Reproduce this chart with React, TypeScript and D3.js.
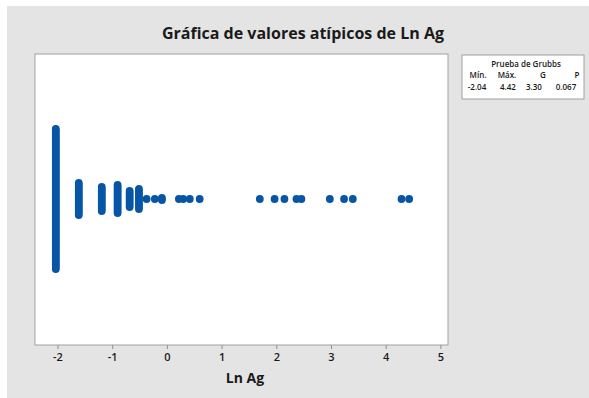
import React from "react";
import * as d3 from "d3";

const title = "Gráfica de valores atípicos de Ln Ag";
const axisTitle = "Ln Ag";
const xTicks = [-2, -1, 0, 1, 2, 3, 4, 5];
// distinct values of Ln Ag and how many observations share each value
const values = [-2.04, -1.62, -1.2, -0.91, -0.69, -0.52, -0.38, -0.23, -0.1, 0.21, 0.29, 0.41, 0.59, 1.69, 1.96, 2.14, 2.36, 2.45, 2.97, 3.23, 3.39, 4.28, 4.42];
const counts = [71, 17, 13, 15, 9, 11, 1, 1, 2, 1, 1, 1, 1, 1, 1, 1, 1, 1, 1, 1, 1, 1, 1];
const legendTitle = "Prueba de Grubbs";
const legendHeaders = ["Mín.", "Máx.", "G", "P"];
const legendValues = ["-2.04", "4.42", "3.30", "0.067"];

const W = 589;
const H = 398;
const plot = { left: 35, right: 448, top: 54, bottom: 345 };
const font = "'Open Sans', 'Noto Sans', sans-serif";
const dotColor = "#0756a6";

export default function App() {
  const x = d3.scaleLinear().domain([-2.42, 5.13]).range([plot.left, plot.right]);
  const yc = 199;
  const step = 2;
  const r = 3.9;

  const dots: { cx: number; cy: number; k: string }[] = [];
  values.forEach((v, i) => {
    const n = counts[i];
    for (let j = 0; j < n; j++) {
      const off = (j - (n - 1) / 2) * step;
      dots.push({ cx: x(v), cy: yc + off, k: `${i}-${j}` });
    }
  });

  const legX = [478, 507, 543, 577];
  const legValX = [477, 508, 534, 566];

  return (
    <svg width={W} height={H} style={{ position: "absolute", left: 0, top: 0 }}>
      <rect x={0} y={0} width={W} height={H} fill="#ffffff" />
      <rect x={7} y={6} width={W - 7} height={H - 6} fill="#e4e4e4" />
      <text x={303} y={39} textAnchor="middle" fontFamily={font} fontWeight="bold" fontSize={16} fill="#1a1a1a">
        {title}
      </text>
      <rect
        x={plot.left}
        y={plot.top}
        width={plot.right - plot.left}
        height={plot.bottom - plot.top}
        fill="#ffffff"
        stroke="#a0a0a0"
        strokeWidth={1}
      />
      {dots.map((d) => (
        <circle key={d.k} cx={d.cx} cy={d.cy} r={r} fill={dotColor} />
      ))}
      {xTicks.map((t) => (
        <g key={t}>
          <line x1={x(t)} x2={x(t)} y1={plot.bottom} y2={plot.bottom + 4} stroke="#909090" />
          <text x={x(t)} y={361} textAnchor="middle" fontFamily={font} fontWeight={600} fontSize={11} fill="#1a1a1a">
            {t}
          </text>
        </g>
      ))}
      <text x={245} y={383} textAnchor="middle" fontFamily={font} fontWeight="bold" fontSize={14} fill="#1a1a1a">
        {axisTitle}
      </text>
      <rect x={462} y={55} width={122} height={44} fill="#ffffff" stroke="#a0a0a0" strokeWidth={1} />
      <text x={526} y={67} textAnchor="middle" fontFamily={font} fontWeight={600} fontSize={8} fill="#1a1a1a">
        {legendTitle}
      </text>
      {legendHeaders.map((h, i) => (
        <text key={h} x={legX[i]} y={78} textAnchor="middle" fontFamily={font} fontWeight={600} fontSize={8} fill="#1a1a1a">
          {h}
        </text>
      ))}
      {legendValues.map((v, i) => (
        <text key={i} x={legValX[i]} y={90} textAnchor="middle" fontFamily={font} fontWeight={600} fontSize={8} fill="#1a1a1a">
          {v}
        </text>
      ))}
    </svg>
  );
}
